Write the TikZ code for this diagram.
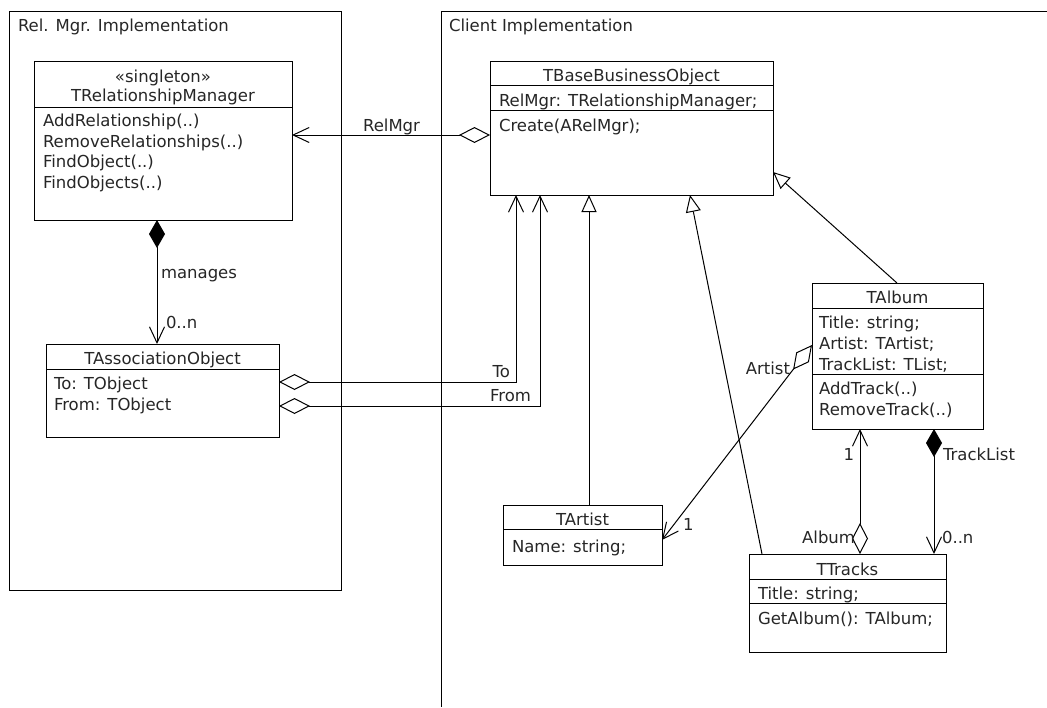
\documentclass[tikz,border=0pt]{standalone}
\usepackage{fontspec}
\setmainfont{DejaVu Sans}
\usetikzlibrary{arrows.meta,calc}
\begin{document}
\begin{tikzpicture}[x=1pt,y=-1pt,line width=1pt,
  every node/.style={inner sep=0pt,outer sep=0pt,font=\fontsize{16.5}{20}\selectfont,text=black!85},
  cls/.style={draw,fill=white,anchor=north west},
  lt/.style={anchor=base west},
  rt/.style={anchor=base east},
  ct/.style={anchor=base},
  assoc/.style={-{Straight Barb[length=16pt,width=15pt]}},
  aggassoc/.style={{Diamond[open,length=31pt,width=16pt]}-{Straight Barb[length=16pt,width=15pt]}},
  compassoc/.style={{Diamond[length=28pt,width=16pt]}-{Straight Barb[length=16pt,width=15pt]}},
  gen/.style={-{Triangle[open,length=17pt,width=15pt]}}]
\useasboundingbox (0,0) rectangle (1047,707);

% packages
\node[draw,anchor=north west,minimum width=332pt,minimum height=579pt] (pkgL) at (9,11) {};
\node[lt] (pkgLt) at (18,31.5) {Rel. Mgr. Implementation};
\coordinate (pkgRtop) at (1047,11);
\coordinate (pkgRcorner) at (441,11);
\coordinate (pkgRbot) at (441,707);
\draw (pkgRtop) -- (pkgRcorner) -- (pkgRbot);
\node[lt] (pkgRt) at (449,31.5) {Client Implementation};

% class boxes
\node[cls,minimum width=258pt,minimum height=159pt] (trm) at (34,61) {};
\draw ($(trm.north west)+(0,46)$) -- ($(trm.north east)+(0,46)$);
\node[ct] (trm0) at (163,82) {«singleton»};
\node[ct] (trm1) at (163,101.5) {TRelationshipManager};
\node[lt] (trm2) at (43,126.5) {AddRelationship(..)};
\node[lt] (trm3) at (43,147) {RemoveRelationships(..)};
\node[lt] (trm4) at (43,167.5) {FindObject(..)};
\node[lt] (trm5) at (43,188) {FindObjects(..)};

\node[cls,minimum width=283pt,minimum height=134pt] (tbbo) at (490,61) {};
\draw ($(tbbo.north west)+(0,24)$) -- ($(tbbo.north east)+(0,24)$);
\draw ($(tbbo.north west)+(0,49)$) -- ($(tbbo.north east)+(0,49)$);
\node[ct] (tbbo1) at (631.5,81.5) {TBaseBusinessObject};
\node[lt] (tbbo2) at (499,106) {RelMgr: TRelationshipManager;};
\node[lt] (tbbo3) at (499,131) {Create(ARelMgr);};

\node[cls,minimum width=233pt,minimum height=93pt] (tao) at (46,344) {};
\draw ($(tao.north west)+(0,25)$) -- ($(tao.north east)+(0,25)$);
\node[ct] (tao1) at (162.5,364) {TAssociationObject};
\node[lt] (tao2) at (54,389) {To: TObject};
\node[lt] (tao3) at (54,410) {From: TObject};

\node[cls,minimum width=159pt,minimum height=60pt] (tartist) at (503,505) {};
\draw ($(tartist.north west)+(0,24)$) -- ($(tartist.north east)+(0,24)$);
\node[ct] (tartist1) at (582.5,525) {TArtist};
\node[lt] (tartist2) at (512,552) {Name: string;};

\node[cls,minimum width=171pt,minimum height=146pt] (talbum) at (812,283) {};
\draw ($(talbum.north west)+(0,25)$) -- ($(talbum.north east)+(0,25)$);
\draw ($(talbum.north west)+(0,91)$) -- ($(talbum.north east)+(0,91)$);
\node[ct] (talbum1) at (897.5,303) {TAlbum};
\node[lt] (talbum2) at (819,328) {Title: string;};
\node[lt] (talbum3) at (819,349) {Artist: TArtist;};
\node[lt] (talbum4) at (819,370) {TrackList: TList;};
\node[lt] (talbum5) at (819,394) {AddTrack(..)};
\node[lt] (talbum6) at (819,415.5) {RemoveTrack(..)};

\node[cls,minimum width=197pt,minimum height=98pt] (ttracks) at (749,554) {};
\draw ($(ttracks.north west)+(0,25)$) -- ($(ttracks.north east)+(0,25)$);
\draw ($(ttracks.north west)+(0,49)$) -- ($(ttracks.north east)+(0,49)$);
\node[ct] (ttracks1) at (847.5,575) {TTracks};
\node[lt] (ttracks2) at (758,599) {Title: string;};
\node[lt] (ttracks3) at (758,624) {GetAlbum(): TAlbum;};

% connectors
\draw[aggassoc] ($(tbbo.north west)+(0,74)$) -- ($(trm.north east)+(0,74)$);
\node[ct] (lrelmgr) at (391.5,131.5) {RelMgr};

\draw[compassoc] ($(trm.south west)+(123,0)$) -- ($(tao.north west)+(111,0)$);
\node[lt] (lmanages) at (161,278) {manages};
\node[lt] (lmn1) at (166,328) {0..n};

\draw[aggassoc] ($(tao.north east)+(0,38)$) -| ($(tbbo.south west)+(26,0)$);
\node[rt] (lto) at (510,377) {To};
\draw[aggassoc] ($(tao.north east)+(0,62)$) -| ($(tbbo.south west)+(50,0)$);
\node[rt] (lfrom) at (531,401.5) {From};

\draw[gen] ($(tartist.north west)+(86,0)$) -- ($(tbbo.south west)+(99,0)$);
\draw[gen] ($(ttracks.north west)+(13,0)$) -- ($(tbbo.south west)+(200,0)$);
\draw[gen] ($(talbum.north west)+(85,0)$) -- ($(tbbo.north east)+(0,111)$);

\draw[aggassoc] ($(talbum.north west)+(0,62)$) -- ($(tartist.north east)+(0,35)$);
\node[rt] (lartist) at (790,374) {Artist};
\node[lt] (lart1) at (683,530) {1};

\draw[aggassoc] ($(ttracks.north west)+(111,0)$) -- ($(talbum.south west)+(48,0)$);
\node[rt] (lalb1) at (854,460) {1};
\node[rt] (lalbum) at (855,543) {Album};

\draw[compassoc] ($(talbum.south west)+(122,0)$) -- ($(ttracks.north west)+(185,0)$);
\node[lt] (ltracklist) at (943,460) {TrackList};
\node[lt] (lmn2) at (942,543) {0..n};
\end{tikzpicture}
\end{document}
